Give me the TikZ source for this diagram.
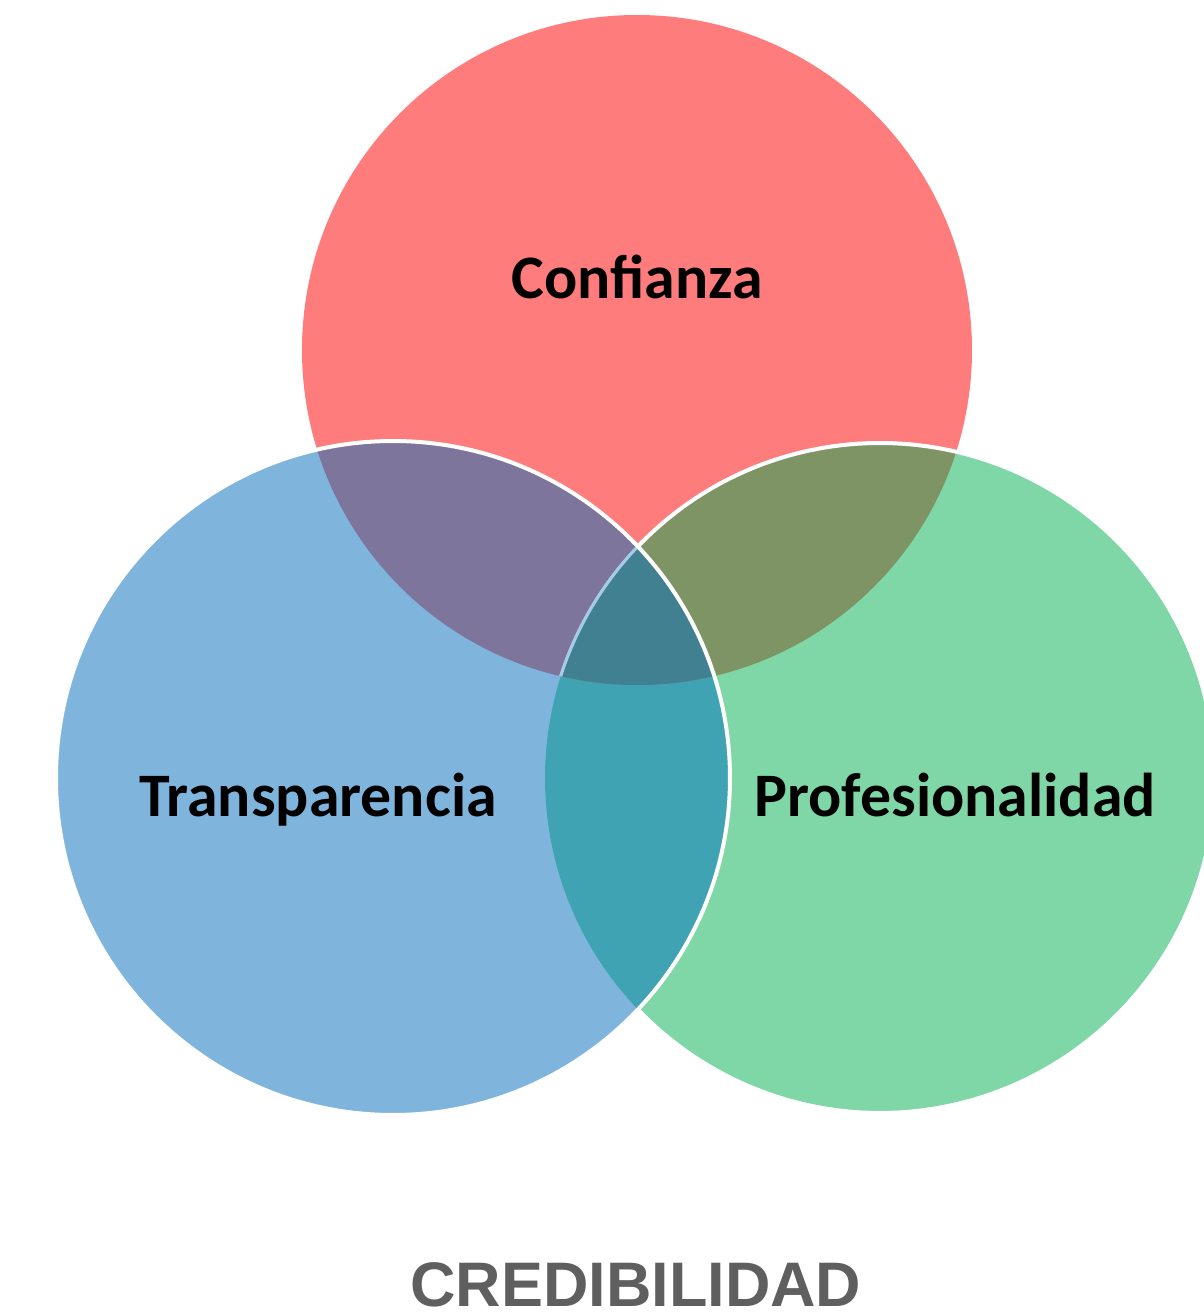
\documentclass[tikz,border=0pt]{standalone}
\usepackage{fontspec}
\setmainfont{Carlito}
\newfontfamily\headfont{Liberation Sans}
\usepackage{tikz}
\usetikzlibrary{positioning}

\definecolor{rojo}{HTML}{FF7C7C}
\definecolor{azul}{HTML}{7FB5DD}
\definecolor{verde}{HTML}{7FD7A7}
\definecolor{morado}{HTML}{7D759C}
\definecolor{oliva}{HTML}{7E9465}
\definecolor{turquesa}{HTML}{40A3B3}
\definecolor{centro}{HTML}{408090}
\definecolor{gris}{HTML}{5F5F5F}

\begin{document}
\begin{tikzpicture}[label/.style={font=\fontsize{17.6}{20}\selectfont\bfseries, text=black, anchor=base, inner sep=0pt},
	title/.style={font=\headfont\fontsize{17.9}{20}\selectfont\bfseries, text=gris, anchor=base, inner sep=0pt},
	edge/.style={draw=white, line width=0.04cm}]

		\useasboundingbox (0,0) rectangle (12.04,13.15);

		\coordinate (c) at (6.37,9.65);
		\coordinate (t) at (3.93,5.37);
		\coordinate (p) at (8.80,5.37);

		\fill[rojo] (c) circle (3.35);
		\fill[azul] (t) circle (3.37);
		\fill[verde] (p) circle (3.35);

		\begin{scope}
			\clip (t) circle (3.37);
			\fill[turquesa] (p) circle (3.35);
		\end{scope}
		\begin{scope}
			\clip (c) circle (3.35);
			\fill[morado] (t) circle (3.37);
			\fill[oliva] (p) circle (3.35);
			\draw[azul!55!white, line width=0.03cm] (p) circle (3.35);
			\clip (t) circle (3.37);
			\fill[centro] (p) circle (3.35);
			\draw[azul!70!white, line width=0.03cm] (p) circle (3.35);
		\end{scope}

		\draw[edge] (p) ++(136.3:3.35) arc[start angle=136.3, end angle=-136.3, radius=3.35];
		\draw[edge] (t) circle (3.37);

		\node[label] (1) at (6.37,10.16) {Confianza};
		\node[label] (2) at (3.18,4.98) {Transparencia};
		\node[label] (3) at (9.55,4.98) {Profesionalidad};
		\node[title] (4) at (6.36,0.08) {CREDIBILIDAD};

\end{tikzpicture}
\end{document}
